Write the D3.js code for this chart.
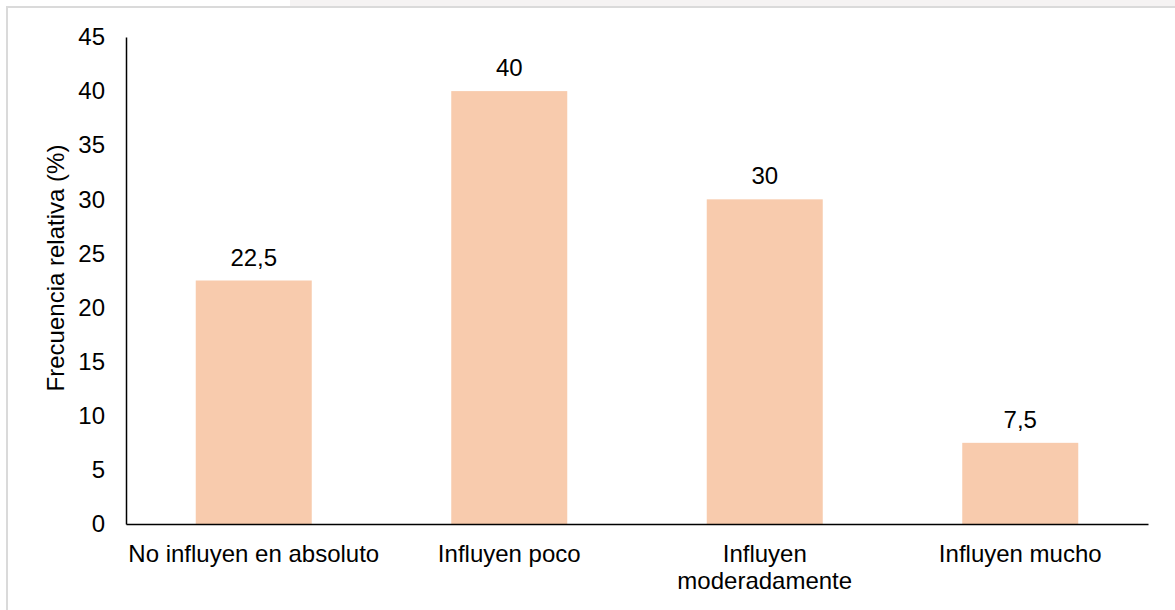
<!DOCTYPE html>
<html>
<head>
<meta charset="utf-8">
<script src="https://cdn.jsdelivr.net/npm/d3@7"></script>
<style>
  html, body { margin: 0; padding: 0; background: #ffffff; }
  svg { display: block; font-family: Arial, "Liberation Sans", sans-serif; }
</style>
</head>
<body>
<svg id="chart" width="1175" height="610"></svg>
<script>
// Survey responses: relative frequency (%) per category
const categories = ["No influyen en absoluto", "Influyen poco", "Influyen moderadamente", "Influyen mucho"];
const values = [22.5, 40, 30, 7.5];
const valueLabels = ["22,5", "40", "30", "7,5"];
const yTicks = [0, 5, 10, 15, 20, 25, 30, 35, 40, 45];
const yTitle = "Frecuencia relativa (%)";

const W = 1175, H = 610;
const FS = 24;
const margin = { left: 126, right: 27, top: 37, bottom: 86 };
const svg = d3.select("#chart");

// page frame: faint top strip and light grey frame lines
svg.append("rect").attr("x", 290).attr("y", 0).attr("width", W - 290).attr("height", 6).attr("fill", "#f5f3f3");
svg.append("line").attr("x1", 6).attr("x2", W).attr("y1", 7).attr("y2", 7).attr("stroke", "#dadada").attr("stroke-width", 2);
svg.append("line").attr("x1", 7).attr("x2", 7).attr("y1", 6).attr("y2", H).attr("stroke", "#dadada").attr("stroke-width", 2);

const x = d3.scaleBand().domain(categories).range([margin.left, W - margin.right]).padding(0);
const y = d3.scaleLinear().domain([0, 45]).range([H - margin.bottom, margin.top]);
const barW = x.bandwidth() * 0.454;

// bars
svg.append("g").selectAll("rect").data(values).join("rect")
  .attr("x", (d, i) => x(categories[i]) + (x.bandwidth() - barW) / 2)
  .attr("y", d => y(d))
  .attr("width", barW)
  .attr("height", d => y(0) - y(d))
  .attr("fill", "#f8cbad");

// value labels
svg.append("g").selectAll("text").data(values).join("text")
  .attr("x", (d, i) => x(categories[i]) + x.bandwidth() / 2)
  .attr("y", d => y(d) - 15)
  .attr("text-anchor", "middle")
  .attr("font-size", FS)
  .attr("fill", "#000")
  .text((d, i) => valueLabels[i]);

// y axis
const yAxis = svg.append("g").attr("transform", `translate(${margin.left},0)`)
  .call(d3.axisLeft(y).tickValues(yTicks).tickSize(0).tickPadding(21).tickFormat(d3.format("d")));
yAxis.select(".domain").attr("stroke", "#000").attr("stroke-width", 1.5);
yAxis.selectAll("text").attr("font-size", FS).attr("fill", "#000").attr("font-family", "Arial, 'Liberation Sans', sans-serif");

// x axis
const xAxis = svg.append("g").attr("transform", `translate(0,${y(0)})`)
  .call(d3.axisBottom(x).tickSize(0).tickPadding(0));
xAxis.select(".domain").attr("stroke", "#000").attr("stroke-width", 1.5);
xAxis.selectAll("text").remove();

// category labels, wrapped to the band width
const catG = svg.append("g");
categories.forEach(c => {
  const cx = x(c) + x.bandwidth() / 2;
  const t = catG.append("text")
    .attr("x", cx)
    .attr("y", y(0) + 38)
    .attr("text-anchor", "middle")
    .attr("font-size", FS)
    .attr("fill", "#000");
  const words = c.split(" ");
  let line = [];
  let tspan = t.append("tspan").attr("x", cx).attr("dy", 0);
  words.forEach(w => {
    line.push(w);
    tspan.text(line.join(" "));
    if (tspan.node().getComputedTextLength() > x.bandwidth() - 2 && line.length > 1) {
      line.pop();
      tspan.text(line.join(" "));
      line = [w];
      tspan = t.append("tspan").attr("x", cx).attr("dy", 27).text(w);
    }
  });
});

// y axis title
svg.append("text")
  .attr("transform", `translate(64,268) rotate(-90)`)
  .attr("text-anchor", "middle")
  .attr("font-size", FS)
  .attr("fill", "#000")
  .text(yTitle);
</script>
</body>
</html>
